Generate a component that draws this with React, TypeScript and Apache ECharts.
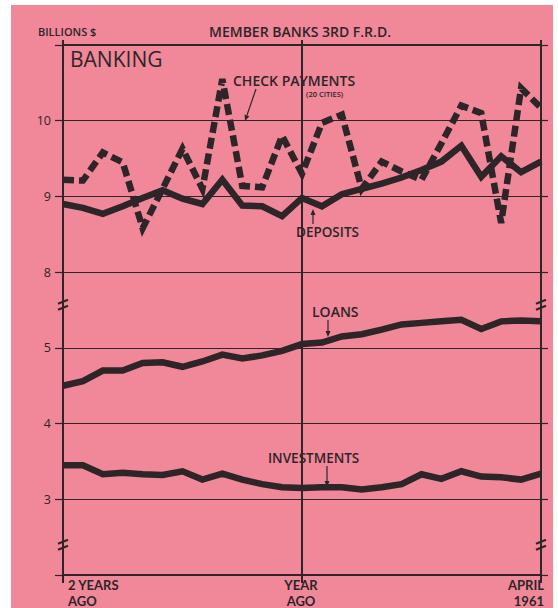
import React, { useEffect, useRef } from 'react';
import * as echarts from 'echarts';

// 25 monthly observations, two years ago .. April 1961
const months = [
  'M-24', 'M-23', 'M-22', 'M-21', 'M-20', 'M-19', 'M-18', 'M-17', 'M-16', 'M-15', 'M-14', 'M-13',
  'M-12', 'M-11', 'M-10', 'M-9', 'M-8', 'M-7', 'M-6', 'M-5', 'M-4', 'M-3', 'M-2', 'M-1', 'M0',
];

// billions of dollars
const checkPayments = [
  9.22, 9.21, 9.58, 9.45, 8.58, 9.1, 9.63, 9.1, 10.55, 9.14, 9.12, 9.8,
  9.3, 9.97, 10.08, 9.1, 9.46, 9.33, 9.22, 9.7, 10.2, 10.1, 8.65, 10.43, 10.17,
];
const deposits = [
  8.9, 8.85, 8.77, 8.87, 8.98, 9.08, 8.97, 8.9, 9.22, 8.88, 8.87, 8.74,
  8.98, 8.87, 9.03, 9.1, 9.17, 9.25, 9.35, 9.46, 9.67, 9.26, 9.53, 9.32, 9.46,
];
const loans = [
  4.5, 4.56, 4.7, 4.7, 4.8, 4.81, 4.75, 4.82, 4.91, 4.86, 4.9, 4.96,
  5.05, 5.07, 5.15, 5.18, 5.24, 5.31, 5.33, 5.35, 5.37, 5.25, 5.35, 5.36, 5.35,
];
const investments = [
  3.45, 3.45, 3.33, 3.35, 3.33, 3.32, 3.37, 3.26, 3.34, 3.26, 3.2, 3.16,
  3.15, 3.16, 3.16, 3.13, 3.16, 3.2, 3.33, 3.27, 3.37, 3.3, 3.29, 3.26, 3.34,
];

// broken scale: the upper panel (8..11) is drawn two units lower (6..9)
const BREAK_SHIFT = 2;
const lowerTicks = [3, 4, 5];
const upperTicks = [8, 9, 10];
const xTickIndex = [0, 12, 24];
const xTickLabels = [['2 YEARS', 'AGO'], ['YEAR', 'AGO'], ['APRIL', '1961']];

export default function App() {
  const ref = useRef<HTMLDivElement>(null);

  useEffect(() => {
    const chart = echarts.init(ref.current as HTMLDivElement, null, { renderer: 'svg' });
    const INK = '#2d2528';
    const PINK = '#F0889A';
    const FONT = '"Open Sans", Lato, sans-serif';
    const XFONT = 'Lato, "Open Sans", sans-serif';
    const showIdx = (i: number) => xTickIndex.indexOf(i) >= 0;

    const lineSeries = (name: string, values: number[], shift: number, dashed: boolean) => ({
      name,
      type: 'line',
      xAxisIndex: 0,
      yAxisIndex: 0,
      data: values.map((v) => +(v - shift).toFixed(3)),
      symbol: 'none',
      silent: true,
      z: dashed ? 4 : 3,
      lineStyle: {
        color: INK,
        width: 6.5,
        type: dashed ? [11, 5] : 'solid',
        cap: 'butt',
        join: 'miter',
      },
    });

    const option: any = {
      animation: false,
      backgroundColor: '#ffffff',
      grid: { left: 63, right: 17, top: 45, bottom: 33, containLabel: false },
      xAxis: [
        {
          type: 'category',
          data: months,
          boundaryGap: false,
          position: 'bottom',
          axisLine: { show: true, lineStyle: { color: INK, width: 2 } },
          axisTick: { show: true, interval: (i: number) => showIdx(i), length: 8, lineStyle: { color: INK, width: 2 } },
          axisLabel: { show: false },
          splitLine: { show: true, interval: (i: number) => showIdx(i), lineStyle: { color: INK, width: 2 } },
        },
        {
          type: 'category',
          data: months,
          boundaryGap: false,
          position: 'top',
          axisLine: { show: true, lineStyle: { color: INK, width: 2 } },
          axisTick: { show: true, interval: (i: number) => showIdx(i), length: 5, lineStyle: { color: INK, width: 2 } },
          axisLabel: { show: false },
          splitLine: { show: false },
        },
      ],
      yAxis: [
        {
          type: 'value',
          min: 2,
          max: 9,
          interval: 1,
          position: 'left',
          axisLine: { show: true, lineStyle: { color: INK, width: 2 } },
          axisTick: { show: true, length: 8, lineStyle: { color: INK, width: 1.2 } },
          axisLabel: {
            margin: 12,
            color: INK,
            fontFamily: FONT,
            fontSize: 12.5,
            fontWeight: 'normal',
            formatter: (v: number) => {
              if (lowerTicks.indexOf(v) >= 0) return String(v);
              if (upperTicks.indexOf(v + BREAK_SHIFT) >= 0) return String(v + BREAK_SHIFT);
              return '';
            },
          },
          splitLine: { show: true, lineStyle: { color: INK, width: 1.2 } },
        },
        {
          type: 'value',
          min: 2,
          max: 9,
          interval: 1,
          position: 'right',
          axisLine: { show: true, lineStyle: { color: INK, width: 2 } },
          axisTick: { show: true, length: 7, lineStyle: { color: INK, width: 1.2 } },
          axisLabel: { show: false },
          splitLine: { show: false },
        },
      ],
      series: [
        lineSeries('Deposits', deposits, BREAK_SHIFT, false),
        lineSeries('Check payments (20 cities)', checkPayments, BREAK_SHIFT, true),
        lineSeries('Loans', loans, 0, false),
        lineSeries('Investments', investments, 0, false),
      ],
    };
    chart.setOption(option);

    const xl = chart.convertToPixel({ xAxisIndex: 0 }, months[0]) as number;
    const xr = chart.convertToPixel({ xAxisIndex: 0 }, months[months.length - 1]) as number;
    const yBreakUpper = chart.convertToPixel({ yAxisIndex: 0 }, 5.57) as number;
    const yBreakLower = chart.convertToPixel({ yAxisIndex: 0 }, 2.4) as number;
    const yAxisBottom = chart.convertToPixel({ yAxisIndex: 0 }, 2) as number;

    const breakMark = (x: number, y: number) => ({
      type: 'group',
      x,
      y,
      z: 50,
      children: [
        { type: 'rect', shape: { x: -3, y: -3, width: 6, height: 6 }, style: { fill: PINK } },
        { type: 'line', shape: { x1: -5, y1: -1, x2: 5, y2: -5 }, style: { stroke: INK, lineWidth: 2 } },
        { type: 'line', shape: { x1: -5, y1: 5, x2: 5, y2: 1 }, style: { stroke: INK, lineWidth: 2 } },
      ],
    });

    const arrow = (x1: number, y1: number, x2: number, y2: number) => {
      const a = Math.atan2(y2 - y1, x2 - x1);
      const L = 6;
      const W = 2.5;
      const bx = x2 - L * Math.cos(a);
      const by = y2 - L * Math.sin(a);
      const px = -Math.sin(a) * W;
      const py = Math.cos(a) * W;
      return {
        type: 'group',
        z: 50,
        children: [
          { type: 'line', shape: { x1, y1, x2: bx, y2: by }, style: { stroke: INK, lineWidth: 1.2 } },
          {
            type: 'polygon',
            shape: { points: [[x2, y2], [bx + px, by + py], [bx - px, by - py]] },
            style: { fill: INK },
          },
        ],
      };
    };

    const txt = (text: string, x: number, y: number, size: number, align: string, weight: any = 600, font = FONT) => ({
      type: 'text',
      x,
      y,
      z: 50,
      style: {
        text,
        fill: INK,
        font: `${weight} ${size}px ${font}`,
        textAlign: align,
        textVerticalAlign: 'middle',
      },
    });

    // category-axis tick labels, one text per line, anchored on the tick positions
    const xLabelTexts: any[] = [];
    xTickIndex.forEach((idx, k) => {
      const px = chart.convertToPixel({ xAxisIndex: 0 }, months[idx]) as number;
      const align = k === 0 ? 'left' : k === xTickIndex.length - 1 ? 'right' : 'center';
      const ax = k === 0 ? px + 5 : k === xTickIndex.length - 1 ? px + 3 : px - 1;
      xLabelTexts.push(txt(xTickLabels[k][0], ax, yAxisBottom + 10, 13, align, 'bold', XFONT));
      xLabelTexts.push(txt(xTickLabels[k][1], ax, yAxisBottom + 26, 13, align, 'bold', XFONT));
    });

    chart.setOption({
      graphic: [
        { type: 'rect', z: -100, silent: true, shape: { x: 11, y: 5, width: 542, height: 603 }, style: { fill: PINK } },
        breakMark(xl, yBreakUpper),
        breakMark(xl, yBreakLower),
        breakMark(xr, yBreakUpper),
        breakMark(xr, yBreakLower),
        ...xLabelTexts,
        txt('BILLIONS $', 38, 31, 11, 'left'),
        txt('MEMBER BANKS 3RD F.R.D.', 300, 31, 14, 'center'),
        txt('BANKING', 70, 59, 21, 'left', 'normal'),
        txt('CHECK PAYMENTS', 233, 80, 14, 'left'),
        txt('(20 CITIES)', 306, 94, 7.5, 'left'),
        txt('DEPOSITS', 296, 232, 13.5, 'left'),
        txt('LOANS', 312, 311, 14, 'left'),
        txt('INVESTMENTS', 268, 458, 13.5, 'left'),
        arrow(256, 89, 245, 121),
        arrow(313, 224, 313, 209),
        arrow(328, 320, 328, 337),
        arrow(327, 466, 327, 487),
      ],
    });

    return () => chart.dispose();
  }, []);

  return <div ref={ref} style={{ position: 'absolute', left: 0, top: 0, width: 558, height: 608 }} />;
}
